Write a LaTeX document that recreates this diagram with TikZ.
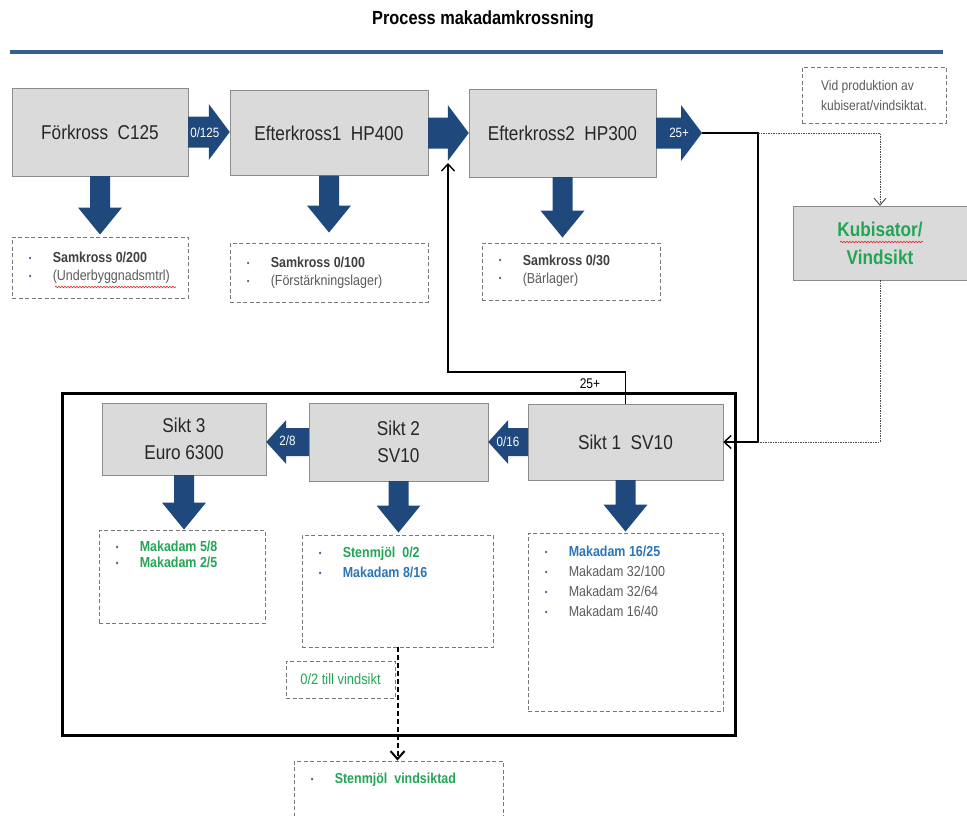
\documentclass[tikz,border=0pt]{standalone}
\usepackage{fontspec}
\setmainfont{Liberation Sans}[FakeStretch=0.86]
\usetikzlibrary{arrows.meta,calc,decorations.pathmorphing}
\definecolor{flowblue}{RGB}{31,73,125}
\definecolor{ruleblue}{RGB}{55,96,146}
\definecolor{boxfill}{RGB}{218,218,218}
\definecolor{boxline}{RGB}{140,140,140}
\definecolor{dashgray}{RGB}{120,120,120}
\definecolor{textdark}{RGB}{38,38,38}
\definecolor{textmid}{RGB}{64,64,64}
\definecolor{textgray}{RGB}{90,90,90}
\definecolor{textgreen}{RGB}{35,165,85}
\definecolor{textblue}{RGB}{46,117,182}
\definecolor{bulletblue}{RGB}{70,100,150}
\definecolor{spellred}{RGB}{220,40,40}
\newcommand{\bul}{\makebox[24pt][l]{\raisebox{1.5pt}{\textcolor{bulletblue}{\fontsize{9}{9}\selectfont\textbullet}}}}
\tikzset{
    crusher/.style={draw=boxline, fill=boxfill, align=center, inner sep=0pt,
        text=textdark, font=\fontsize{20}{27}\selectfont},
    outbox/.style={draw=dashgray, dash pattern=on 4pt off 2.5pt, line width=0.9pt,
        inner sep=0pt},
    listtext/.style={anchor=north west, inner sep=0pt, align=left, text=textgray,
        font=\fontsize{14.5}{18}\selectfont},
    flowright/.style={fill=flowblue, to path={let \p1=(\tikztostart), \p2=(\tikztotarget) in
        (\x1,\y1+15.5pt) -- (\x2-21pt,\y1+15.5pt) -- (\x2-21pt,\y1+28pt) -- (\x2,\y1)
        -- (\x2-21pt,\y1-28pt) -- (\x2-21pt,\y1-15.5pt) -- (\x1,\y1-15.5pt) -- cycle}},
    flowleft/.style={fill=flowblue, to path={let \p1=(\tikztostart), \p2=(\tikztotarget) in
        (\x1,\y1+14pt) -- (\x2+20pt,\y1+14pt) -- (\x2+20pt,\y1+22pt) -- (\x2,\y1)
        -- (\x2+20pt,\y1-22pt) -- (\x2+20pt,\y1-14pt) -- (\x1,\y1-14pt) -- cycle}},
    flowdown/.style={fill=flowblue, to path={let \p1=(\tikztostart), \p2=(\tikztotarget) in
        (\x1-10pt,\y1) -- (\x1-10pt,\y2+27pt) -- (\x1-22pt,\y2+27pt) -- (\x1,\y2)
        -- (\x1+22pt,\y2+27pt) -- (\x1+10pt,\y2+27pt) -- (\x1+10pt,\y1) -- cycle}},
    arrowlbl/.style={text=white, inner sep=0pt, font=\fontsize{13.5}{15}\selectfont},
    flowline/.style={draw=black, line width=1.4pt,
        -{Straight Barb[length=7pt,width=13pt]}},
    dotline/.style={draw=black!70, line width=0.9pt, dash pattern=on 1.5pt off 1pt,
        -{Straight Barb[length=7pt,width=12pt]}},
    dashline/.style={draw=black, line width=2pt, dash pattern=on 5pt off 3pt,
        -{Straight Barb[length=8pt,width=14pt]}},
    spellline/.style={draw=spellred, line width=0.6pt,
        decorate, decoration={snake, amplitude=0.8pt, segment length=3pt}}
}
\begin{document}
\begin{tikzpicture}[x=1pt, y=1pt]
    \useasboundingbox (0,0) rectangle (967,-815);
    \node[font=\bfseries\fontsize{19}{22}\selectfont, text=black] (title) at (483,-20)
        {Process makadamkrossning};
    \draw[ruleblue, line width=4pt] (10,-52) -- (943,-52);

    \draw[line width=3pt] (62,-393) rectangle (735,-735);

    \node[crusher, minimum width=176pt, minimum height=88pt] (forkross) at (100,-132)
        {Förkross~~C125};
    \node[crusher, minimum width=198pt, minimum height=85pt] (efter1) at (329,-133)
        {Efterkross1~~HP400};
    \node[crusher, minimum width=187pt, minimum height=88pt] (efter2) at (562.5,-133)
        {Efterkross2~~HP300};
    \node[crusher, minimum width=174pt, minimum height=74pt, text=textgreen,
        font=\bfseries\fontsize{20}{28}\selectfont] (kub) at (880,-243)
        {Kubisator/\\Vindsikt};
    \node[outbox, minimum width=144pt, minimum height=56pt, align=left, text=textgray,
        font=\fontsize{14}{20}\selectfont] (note) at (874,-95)
        {Vid produktion av\\kubiserat/vindsiktat.};

    \node[crusher, minimum width=164pt, minimum height=72pt] (sikt3) at (184,-439)
        {Sikt 3\\Euro 6300};
    \node[crusher, minimum width=179pt, minimum height=78pt] (sikt2) at (398.5,-442)
        {Sikt 2\\SV10};
    \node[crusher, minimum width=195pt, minimum height=76pt] (sikt1) at (625.5,-442)
        {Sikt 1~~SV10};

    \node[outbox, minimum width=176pt, minimum height=61pt] (out1) at (100,-267.5) {};
    \node[outbox, minimum width=198pt, minimum height=59pt] (out2) at (329,-272.5) {};
    \node[outbox, minimum width=178pt, minimum height=57pt] (out3) at (571,-271.5) {};
    \node[listtext] (list1) at ([xshift=17pt,yshift=-15.5pt]out1.north west)
        {\bul\textcolor{textmid}{\textbf{Samkross 0/200}}\\
         \bul(Underbyggnadsmtrl)};
    \node[listtext] (list2) at ([xshift=17pt,yshift=-14.5pt]out2.north west)
        {\bul\textcolor{textmid}{\textbf{Samkross 0/100}}\\
         \bul(Förstärkningslager)};
    \node[listtext] (list3) at ([xshift=17pt,yshift=-12pt]out3.north west)
        {\bul\textcolor{textmid}{\textbf{Samkross 0/30}}\\
         \bul(Bärlager)};

    \node[outbox, minimum width=166pt, minimum height=93pt] (outS3) at (182,-576.5) {};
    \node[outbox, minimum width=191pt, minimum height=112pt] (outS2) at (397.5,-591) {};
    \node[outbox, minimum width=195pt, minimum height=178pt] (outS1) at (625.5,-622) {};
    \node[listtext, font=\bfseries\fontsize{14.5}{16}\selectfont, text=textgreen] (listS3)
        at ([xshift=17pt,yshift=-11.5pt]outS3.north west)
        {\bul Makadam 5/8\\ \bul Makadam 2/5};
    \node[listtext, font=\bfseries\fontsize{14.5}{20}\selectfont] (listS2)
        at ([xshift=17pt,yshift=-12.5pt]outS2.north west)
        {\bul\textcolor{textgreen}{Stenmjöl~~0/2}\\
         \bul\textcolor{textblue}{Makadam 8/16}};
    \node[listtext, font=\fontsize{14.5}{20}\selectfont] (listS1)
        at ([xshift=17pt,yshift=-13.5pt]outS1.north west)
        {\bul\textcolor{textblue}{\textbf{Makadam 16/25}}\\
         \bul Makadam 32/100\\ \bul Makadam 32/64\\ \bul Makadam 16/40};

    \node[outbox, minimum width=109pt, minimum height=37pt, text=textgreen,
        font=\fontsize{15}{17}\selectfont] (vind) at (340.5,-679.5) {0/2 till vindsikt};
    \node[outbox, minimum width=209pt, minimum height=70pt] (outV) at (398.5,-796) {};
    \node[listtext, font=\bfseries\fontsize{14.5}{18}\selectfont, text=textgreen] (listV)
        at ([xshift=17pt,yshift=-12.5pt]outV.north west)
        {\bul Stenmjöl~~vindsiktad};

    \coordinate (end25) at (702,-133);
    \path[flowright] (forkross.east) to (efter1.west);
    \path[flowright] (efter1.east) to (efter2.west);
    \path[flowright] (efter2.east) to (end25);
    \node[arrowlbl] (t125) at ($(forkross.east)!0.4!(efter1.west)$) {0/125};
    \node[arrowlbl] (t25) at ($(efter2.east)!0.5!(end25)$) {25+};
    \path[flowleft] (sikt1.west) to (sikt2.east);
    \path[flowleft] (sikt2.west) to (sikt3.east);
    \node[arrowlbl] (t016) at ($(sikt1.west)!0.5!(sikt2.east)$) {0/16};
    \node[arrowlbl] (t28) at ($(sikt2.west)!0.5!(sikt3.east)$) {2/8};

    \path[flowdown] (forkross.south) to ([yshift=2pt]out1.north);
    \path[flowdown] (efter1.south) to ([yshift=10pt]out2.north);
    \path[flowdown] (efter2.south) to ([yshift=5pt]out3.north);
    \path[flowdown] (sikt3.south) to (outS3.north);
    \path[flowdown] (sikt2.south) to ([yshift=2pt]outS2.north);
    \path[flowdown] (sikt1.south) to ([yshift=1pt]outS1.north);

    \draw[spellline] (55,-287) -- (176,-287);
    \draw[spellline] (840,-242) -- (923,-242);

    \coordinate (jn) at (758,0);
    \coordinate (fb) at (448,-372);
    \coordinate (fbtip) at (448,-163);
    \draw[flowline] (end25) -- (end25 -| jn) |- (sikt1.east);
    \draw[dotline] (end25 -| jn) -| (kub.north);
    \draw[dotline, -] (kub.south) |- (sikt1.east -| jn);
    \draw[flowline] (sikt1.north) |- (fb) -- (fbtip);
    \node[font=\fontsize{14}{16}\selectfont, inner sep=0pt] (t25b) at (590,-384) {25+};
    \draw[dashline] (outS2.south) -- (outS2.south |- outV.north);
\end{tikzpicture}
\end{document}
